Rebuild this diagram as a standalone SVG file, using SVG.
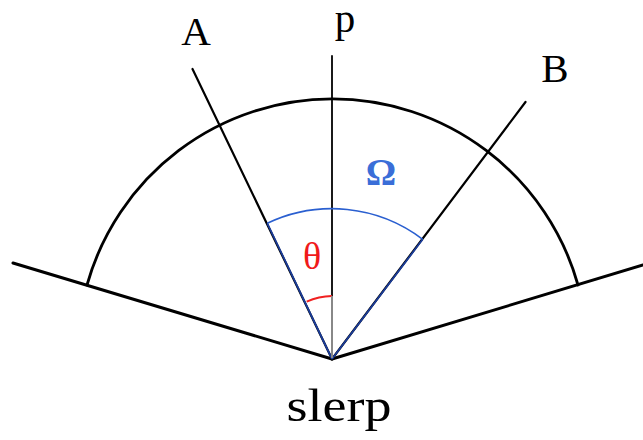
<svg xmlns="http://www.w3.org/2000/svg" width="643" height="440" viewBox="0 0 643 440">
<style>
.ln{fill:none;stroke:#000;stroke-linecap:round}
.lbl{font-family:"Liberation Serif","Times New Roman",serif;fill:#000}
</style>
<rect width="643" height="440" fill="#fff"/>
<g id="connectors">
<path id="left-plane" class="ln" stroke-width="3" d="M13,263 L332,359"/>
<path id="right-plane" class="ln" stroke-width="3" d="M332,359 L643,265"/>
<path id="hemisphere" class="ln" stroke-width="2.8" d="M87,285 A255,255 0 0 1 578,285"/>
<path id="ray-A" class="ln" stroke-width="2.2" d="M332,359 L192.5,69"/>
<path id="ray-p" class="ln" stroke-width="1.8" d="M332,359 L332,56"/>
<path id="ray-B" class="ln" stroke-width="2.2" d="M332,359 L525.5,102"/>
<path id="blue-A" fill="none" stroke="#1a3c9a" stroke-width="1.8" d="M332,359 L267.3,223.3"/>
<path id="blue-B" fill="none" stroke="#1a3c9a" stroke-width="1.8" d="M332,359 L422.7,239.3"/>
<path id="omega-arc" fill="none" stroke="#2a5fd0" stroke-width="1.6" d="M267.3,223.3 A150,150 0 0 1 422.7,239.3"/>
<path id="theta-arc" fill="none" stroke="#f02020" stroke-width="2" d="M306.7,301.7 A63,63 0 0 1 332,296"/>
<path id="p-grey" fill="none" stroke="#888" stroke-width="2" d="M332,296 L332,358"/>
</g>
<g id="label-A"><text class="lbl" x="196" y="45" font-size="41" text-anchor="middle">A</text></g>
<g id="label-p"><text class="lbl" x="345" y="32" font-size="41" text-anchor="middle">p</text></g>
<g id="label-B"><text class="lbl" x="555" y="82" font-size="41" text-anchor="middle">B</text></g>
<g id="label-omega"><text x="381" y="185" font-size="38" font-weight="bold" fill="#3a6ed8" font-family="Liberation Serif,serif" text-anchor="middle">Ω</text></g>
<g id="label-theta"><text x="312" y="269" font-size="38" fill="#f01a1a" font-family="Liberation Serif,serif" text-anchor="middle">θ</text></g>
<g id="label-slerp"><text class="lbl" x="339" y="421" font-size="47" text-anchor="middle" textLength="105" lengthAdjust="spacingAndGlyphs">slerp</text></g>
</svg>
